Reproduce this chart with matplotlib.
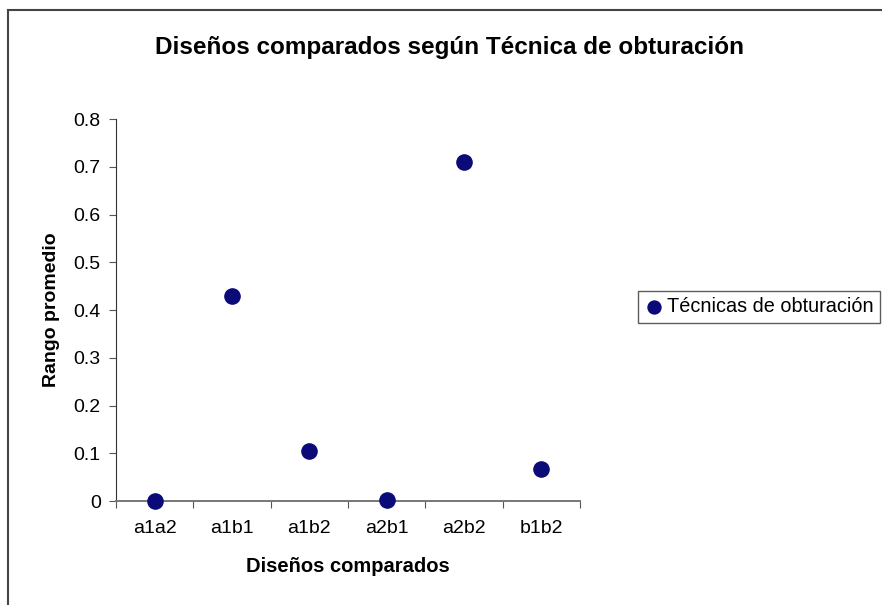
import matplotlib.pyplot as plt
from matplotlib.patches import Rectangle

plt.rcParams['font.family'] = ['Liberation Sans', 'DejaVu Sans']

designs = ["a1a2", "a1b1", "a1b2", "a2b1", "a2b2", "b1b2"]
mean_range = [0.0, 0.43, 0.105, 0.002, 0.71, 0.068]
yticks = [0, 0.1, 0.2, 0.3, 0.4, 0.5, 0.6, 0.7, 0.8]
ytick_labels = ["0", "0.1", "0.2", "0.3", "0.4", "0.5", "0.6", "0.7", "0.8"]

fig = plt.figure(figsize=(8.82, 6.05), dpi=100)
ax = fig.add_axes([0.1315, 0.1719, 0.5261, 0.6314])

xpos = list(range(1, len(designs) + 1))
ax.scatter(xpos, mean_range, s=120, color="#0a0a78", zorder=3, clip_on=False,
           label="Técnicas de obturación")

ax.set_xlim(0.5, len(designs) + 0.5)
ax.set_ylim(0, 0.8)
ax.set_yticks(yticks)
ax.set_yticklabels(ytick_labels)

# category labels centred, tick marks between categories
ax.set_xticks([x + 0.5 for x in range(0, len(designs) + 1)])
ax.set_xticklabels([])
ax.set_xticks(xpos, minor=True)
ax.set_xticklabels(designs, minor=True)
ax.tick_params(axis='x', which='minor', length=0, pad=14, labelsize=14)
ax.tick_params(axis='x', which='major', length=5, color="#555555")
ax.tick_params(axis='y', length=5, labelsize=14, pad=6, color="#555555")

for side in ["top", "right"]:
    ax.spines[side].set_visible(False)
ax.spines["left"].set_color("#333333")
ax.spines["bottom"].set_color("#777777")
ax.spines["bottom"].set_linewidth(1.4)

ax.set_xlabel("Diseños comparados", fontsize=14.5, fontweight="bold", labelpad=14)
ax.set_ylabel("Rango promedio", fontsize=14, fontweight="bold", labelpad=10)

fig.text(0.51, 0.921, "Diseños comparados según Técnica de obturación",
         ha="center", va="center", fontsize=17.5, fontweight="bold")

leg = fig.legend(loc="center left", bbox_to_anchor=(638 / 882, 0.4926),
                 fontsize=14.3, frameon=True, fancybox=False, handletextpad=0.2,
                 handlelength=0.9, borderpad=0.35, borderaxespad=0.0,
                 markerscale=0.85)
leg.get_frame().set_edgecolor("#333333")
leg.get_frame().set_linewidth(1.0)

# outer chart frame (right and bottom edges fall outside the picture)
fig.patches.append(Rectangle((8 / 882, -0.05), 1.1, 1.05 - 10 / 605,
                             transform=fig.transFigure, fill=False,
                             edgecolor="#444444", linewidth=1.5))

fig.savefig("out.png", dpi=100)
